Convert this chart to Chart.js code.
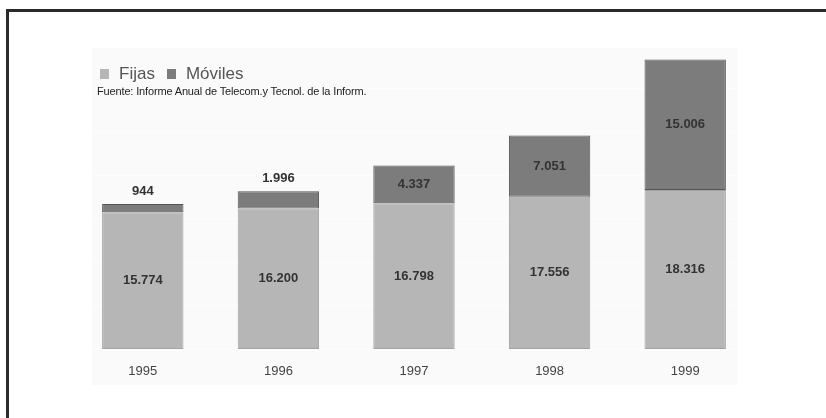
<!DOCTYPE html>
<html>
<head>
<meta charset="utf-8">
<script src="https://cdn.jsdelivr.net/npm/chart.js@4.4.1/dist/chart.umd.min.js"></script>
<style>
  html, body { margin: 0; padding: 0; background: #fff; }
  body { width: 826px; height: 418px; position: relative; overflow: hidden; font-family: "Liberation Sans", Arial, sans-serif; }
  #frame { position: absolute; left: 6px; top: 9px; width: 900px; height: 500px; border: 3px solid #2b2b2b; }
  #patch { position: absolute; left: 92px; top: 48px; width: 645px; height: 337px; background: #fafafa; }
  #chart { position: absolute; left: 0; top: 0; }
  #legend { position: absolute; left: 100px; top: 64px; font-size: 17px; color: #555; white-space: nowrap; }
  #legend span.box { display: inline-block; width: 9px; height: 10px; vertical-align: 0px; margin-right: 10px; }
  #legend span.item { margin-right: 12px; }
  #source { position: absolute; left: 97px; top: 85px; font-size: 11px; color: #222; letter-spacing: -0.15px; white-space: nowrap; }
</style>
</head>
<body>
<div id="frame"></div>
<div id="patch"></div>
<canvas id="chart" width="826" height="418"></canvas>
<div id="legend"></div>
<div id="source">Fuente: Informe Anual de Telecom.y Tecnol. de la Inform.</div>
<script>
// datos
const years = ['1995', '1996', '1997', '1998', '1999'];
const fijas = [15774, 16200, 16798, 17556, 18316];
const moviles = [944, 1996, 4337, 7051, 15006];
const seriesNames = ['Fijas', 'Móviles'];
const seriesColors = ['#b6b6b6', '#7c7c7c'];
const seriesBorders = ['#a2a2a2', '#555555'];

const fmt = v => String(v).replace(/\B(?=(\d{3})+(?!\d))/g, '.');

// leyenda en html
document.getElementById('legend').innerHTML = seriesNames.map((n, i) =>
  '<span class="item"><span class="box" style="background:' + seriesColors[i] + '"></span>' + n + '</span>'
).join('');

// etiquetas de valor sobre cada segmento
const valueLabels = {
  id: 'valueLabels',
  afterDatasetsDraw(chart) {
    const ctx = chart.ctx;
    ctx.save();
    ctx.font = 'bold 13px "Liberation Sans", Arial, sans-serif';
    ctx.fillStyle = '#333';
    ctx.textAlign = 'center';
    ctx.textBaseline = 'middle';
    chart.data.datasets.forEach((ds, di) => {
      chart.getDatasetMeta(di).data.forEach((bar, i) => {
        const h = bar.base - bar.y;
        const y = h < 22 ? bar.y - 13 : (bar.y + bar.base) / 2;
        ctx.fillText(fmt(ds.data[i]), bar.x, y);
      });
    });
    ctx.restore();
  }
};

new Chart(document.getElementById('chart'), {
  type: 'bar',
  data: {
    labels: years,
    datasets: [
      { label: seriesNames[0], data: fijas, backgroundColor: seriesColors[0], borderColor: seriesBorders[0], borderWidth: 1, borderSkipped: false },
      { label: seriesNames[1], data: moviles, backgroundColor: seriesColors[1], borderColor: seriesBorders[1], borderWidth: 1, borderSkipped: false }
    ]
  },
  options: {
    responsive: false,
    animation: false,
    layout: { padding: { left: 75, right: 73, top: 45, bottom: 25 } },
    datasets: { bar: { barPercentage: 0.6, categoryPercentage: 1 } },
    plugins: { legend: { display: false }, tooltip: { enabled: false } },
    scales: {
      x: {
        stacked: true,
        grid: { display: false, drawTicks: false },
        border: { display: false },
        ticks: { color: '#444', padding: 14, font: { size: 13, family: '"Liberation Sans", Arial, sans-serif' } }
      },
      y: {
        stacked: true,
        min: 0,
        max: 35000,
        z: 1,
        grid: { color: 'rgba(255,255,255,0.55)', lineWidth: 1, drawTicks: false },
        border: { display: false },
        ticks: { display: false, stepSize: 5000 }
      }
    }
  },
  plugins: [valueLabels]
});
</script>
</body>
</html>
